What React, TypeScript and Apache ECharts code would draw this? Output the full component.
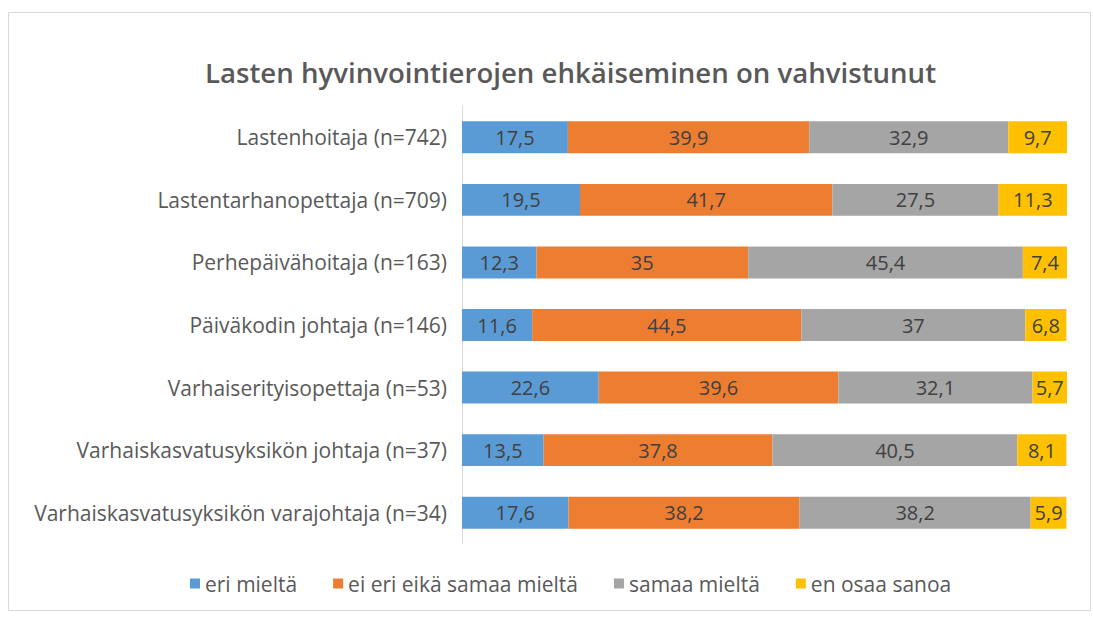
import React, { useEffect, useRef } from "react";
import * as echarts from "echarts";

const categories = [
  "Lastenhoitaja (n=742)",
  "Lastentarhanopettaja (n=709)",
  "Perhepäivähoitaja (n=163)",
  "Päiväkodin johtaja (n=146)",
  "Varhaiserityisopettaja (n=53)",
  "Varhaiskasvatusyksikön johtaja (n=37)",
  "Varhaiskasvatusyksikön varajohtaja (n=34)",
];
const seriesNames = ["eri mieltä", "ei eri eikä samaa mieltä", "samaa mieltä", "en osaa sanoa"];
const eriMielta = [17.5, 19.5, 12.3, 11.6, 22.6, 13.5, 17.6];
const eiEriEikaSamaa = [39.9, 41.7, 35, 44.5, 39.6, 37.8, 38.2];
const samaaMielta = [32.9, 27.5, 45.4, 37, 32.1, 40.5, 38.2];
const enOsaaSanoa = [9.7, 11.3, 7.4, 6.8, 5.7, 8.1, 5.9];
const colors = ["#5B9BD5", "#ED7D31", "#A5A5A5", "#FFC000"];
const title = "Lasten hyvinvointierojen ehkäiseminen on vahvistunut";

export default function App() {
  const ref = useRef<HTMLDivElement>(null);
  useEffect(() => {
    if (!ref.current) return;
    const chart = echarts.init(ref.current, null, { renderer: "svg" });
    const values = [eriMielta, eiEriEikaSamaa, samaaMielta, enOsaaSanoa];
    const font = "'Open Sans', 'Noto Sans', sans-serif";
    chart.setOption({
      animation: false,
      textStyle: { fontFamily: font },
      title: {
        text: title,
        left: 200,
        top: 53,
        textStyle: { fontSize: 27.6, fontWeight: 600, color: "#595959", fontFamily: font },
      },
      graphic: [
        {
          type: "rect",
          shape: { x: 8.5, y: 12.5, width: 1082, height: 598 },
          style: { fill: "none", stroke: "#D9D9D9", lineWidth: 1 },
          silent: true,
          z: -1,
        },
      ],
      legend: {
        top: 568,
        left: 185,
        itemWidth: 10,
        itemHeight: 10,
        itemGap: 36,
        icon: "rect",
        textStyle: { fontSize: 21, color: "#595959", fontFamily: font },
        data: seriesNames,
      },
      grid: { left: 462, right: 26, top: 106, bottom: 73, containLabel: false },
      xAxis: {
        type: "value",
        min: 0,
        max: 100,
        show: false,
      },
      yAxis: {
        type: "category",
        inverse: true,
        data: categories,
        axisTick: { show: false },
        axisLine: { show: true, lineStyle: { color: "#D9D9D9" } },
        axisLabel: { fontSize: 21, color: "#595959", margin: 15, fontFamily: font },
      },
      series: values.map((v, i) => ({
        name: seriesNames[i],
        type: "bar",
        stack: "total",
        barWidth: "51%",
        data: v,
        itemStyle: { color: colors[i] },
        label: {
          show: true,
          position: "inside",
          color: "#404040",
          fontSize: 20,
          fontFamily: font,
          formatter: (p: any) => String(p.value).replace(".", ","),
        },
        labelLayout: { hideOverlap: false },
      })),
    });
    return () => chart.dispose();
  }, []);
  return (
    <div
      ref={ref}
      style={{ position: "absolute", left: 0, top: 0, width: 1093, height: 617, background: "#fff" }}
    />
  );
}
